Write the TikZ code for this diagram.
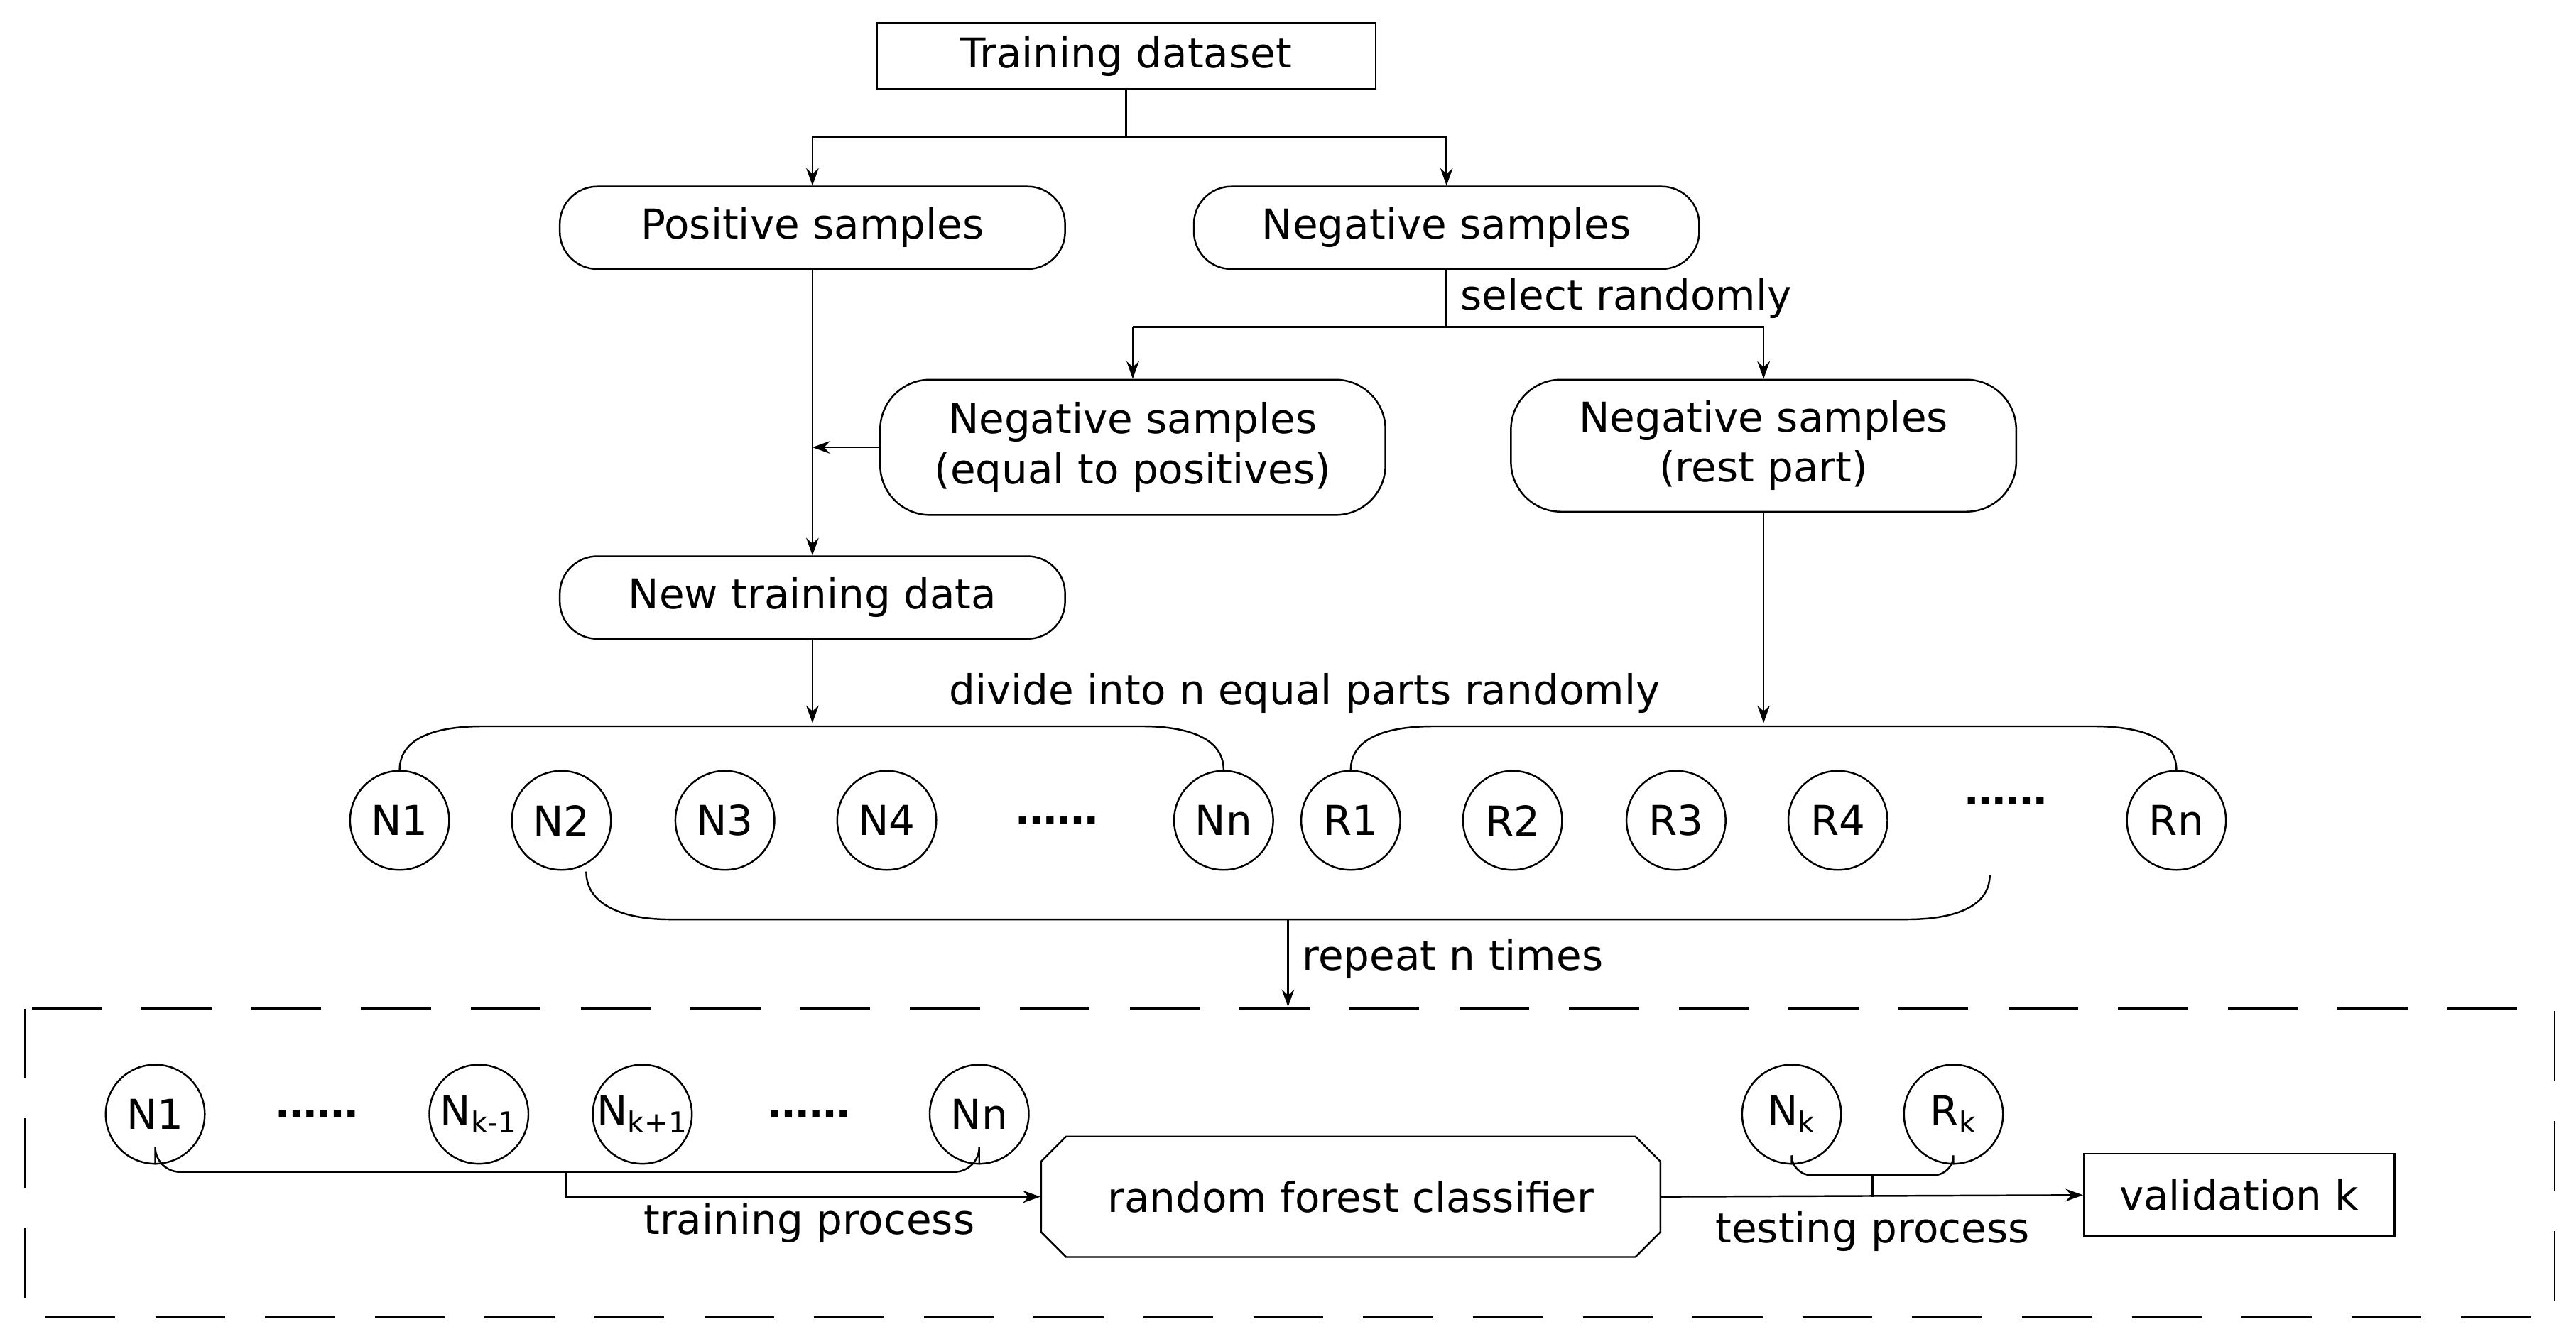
\documentclass[tikz,border=0pt]{standalone}
\usepackage{fontspec}
\setmainfont{DejaVu Sans}
\usetikzlibrary{shapes.misc,arrows.meta}
\begin{document}
\begin{tikzpicture}[
        x=0.02325cm, y=-0.02325cm,
        font=\fontsize{16.5}{20}\selectfont,
        >={Stealth[length=7pt,width=5pt]},
        every path/.style={line width=0.7pt},
        box/.style={draw, rectangle, minimum width=302*0.02325cm, minimum height=40*0.02325cm, inner sep=0},
        rbox/.style={draw, rounded corners=15pt, minimum width=306*0.02325cm, minimum height=50*0.02325cm, inner sep=0, align=center},
        part/.style={draw, circle, minimum size=60*0.02325cm, inner sep=0},
      ]
      \useasboundingbox (0,0) rectangle (1560,811);

      \node[box] (train) at (682,34) {Training dataset};
      \node[rbox] (pos) at (492,138) {Positive samples};
      \node[rbox] (neg) at (876,138) {Negative samples};
      \node[rbox, minimum height=82*0.02325cm, rounded corners=20pt] (negeq) at (686,271)
        {Negative samples\\(equal to positives)};
      \node[rbox, minimum height=80*0.02325cm, rounded corners=20pt] (negrest) at (1068,270)
        {Negative samples\\(rest part)};
      \node[rbox] (new) at (492,362) {New training data};

      \draw[->] (train.south) |- (492,83) -- (pos.north);
      \draw[->] (train.south) |- (876,83) -- (neg.north);
      \draw (neg.south) -- (876,198)
        node[right=2pt, pos=0.5] {select randomly};
      \draw[->] (686,198) -- (negeq.north);
      \draw[->] (686,198) -| (negrest.north);
      \draw (686,198) -- (876,198);
      \coordinate (join) at (492,271);
      \draw[->] (negeq.west) -- (join);
      \draw[->] (pos.south) -- (new.north);
      \draw[->] (new.south) -- (492,438);
      \draw[->] (negrest.south) -- (1068,438);
      \node at (790,420) {divide into n equal parts randomly};

      % parts
      \foreach \x/\name/\desc in {
        242/n1/{N1}, 340/n2/{N2}, 439/n3/{N3}, 537/n4/{N4}, 741/nn/{Nn},
        818/r1/{R1}, 916/r2/{R2}, 1015/r3/{R3}, 1113/r4/{R4}, 1318/rn/{Rn}
      }{
        \node[part] (\name) at (\x,497) {\desc};
      }
      \node at (640,497) {\textbf{\dots\dots}};
      \node at (1215,485) {\textbf{\dots\dots}};

      \draw (n1.north) to[out=90,in=180] (292,440) -- (692,440)
        to[out=0,in=90] (nn.north);
      \draw (r1.north) to[out=90,in=180] (868,440) -- (1268,440)
        to[out=0,in=90] (rn.north);
      \draw (355,528) to[out=-90,in=180] (405,557) -- (1155,557)
        to[out=0,in=-90] (1205,530);
      \draw[->] (780,557) -- (780,610)
        node[right=2pt, pos=0.45] {repeat n times};

      \draw[dash pattern=on 28pt off 16pt] (15,611) rectangle (1547,798);

      % cross validation
      \foreach \x/\name/\desc in {
        94/m1/{N1}, 290/mkm/{N\textsubscript{k-1}}, 389/mkp/{N\textsubscript{k+1}},
        593/mn/{Nn}, 1085/nk/{N\textsubscript{k}}, 1183/rk/{R\textsubscript{k}}
      }{
        \node[part] (\name) at (\x,675) {\desc};
      }
      \node at (192,675) {\textbf{\dots\dots}};
      \node at (490,675) {\textbf{\dots\dots}};

      \node[draw, chamfered rectangle, chamfered rectangle xsep=20pt,
        minimum width=375*0.02325cm, minimum height=73*0.02325cm, inner sep=0]
        (rf) at (818,725) {random forest classifier};
      \node[draw, minimum width=188*0.02325cm, minimum height=50*0.02325cm, inner sep=0]
        (valid) at (1356,724) {validation k};

      \draw[rounded corners=10pt] (m1.south) |- (343,710) -| (mn.south);
      \draw[->] (343,710) |- (rf.west);
      \node at (490,741) {training process};
      \draw[rounded corners=8pt] (nk.south) |- (1134,712) -| (rk.south);
      \draw (1134,712) -- (1134,725);
      \draw[->] (rf.east) -- (valid.west);
      \node at (1134,746) {testing process};

    \end{tikzpicture}
\end{document}
